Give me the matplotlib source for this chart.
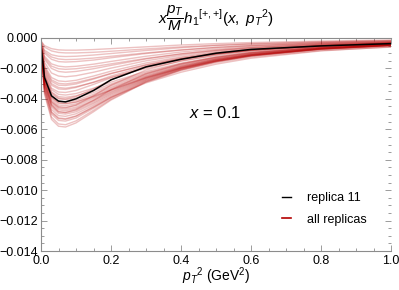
import numpy as np
import matplotlib.pyplot as plt
from matplotlib.lines import Line2D
from matplotlib.ticker import MultipleLocator

plt.rcParams['font.family'] = ['Liberation Sans', 'DejaVu Sans']
plt.rcParams['mathtext.fontset'] = 'custom'
plt.rcParams['mathtext.rm'] = 'Liberation Sans'
plt.rcParams['mathtext.it'] = 'Liberation Sans:italic'

# pT^2 grid (GeV^2) and curve values in units of 1e-3
pt2 = [0, 0.01, 0.03, 0.05, 0.07, 0.10, 0.15, 0.20, 0.30, 0.40, 0.50, 0.60, 0.80, 1.0]

replica11 = [-0.5, -2.6, -3.8, -4.15, -4.2, -4.0, -3.45, -2.75, -1.9, -1.4, -1.0, -0.75, -0.52, -0.37]

replicas = [
    [-0.2, -0.5, -0.7, -0.78, -0.8, -0.8, -0.76, -0.7, -0.58, -0.46, -0.37, -0.3, -0.2, -0.13],
    [-0.3, -0.8, -1.1, -1.2, -1.22, -1.2, -1.12, -1.02, -0.82, -0.64, -0.5, -0.4, -0.27, -0.18],
    [-0.3, -1.0, -1.4, -1.55, -1.58, -1.55, -1.45, -1.3, -1.02, -0.8, -0.62, -0.49, -0.32, -0.22],
    [-0.4, -1.2, -1.7, -1.85, -1.9, -1.86, -1.72, -1.54, -1.2, -0.92, -0.72, -0.56, -0.36, -0.25],
    [-0.4, -1.4, -2.0, -2.2, -2.25, -2.2, -2.02, -1.8, -1.38, -1.05, -0.8, -0.62, -0.4, -0.28],
    [-0.4, -1.6, -2.3, -2.5, -2.55, -2.48, -2.25, -1.98, -1.5, -1.14, -0.87, -0.67, -0.43, -0.3],
    [-0.5, -1.8, -2.6, -2.82, -2.86, -2.78, -2.5, -2.18, -1.64, -1.24, -0.94, -0.73, -0.47, -0.32],
    [-0.5, -2.0, -2.85, -3.1, -3.12, -3.02, -2.7, -2.35, -1.75, -1.3, -0.98, -0.76, -0.49, -0.33],
    [-0.5, -2.2, -3.1, -3.35, -3.38, -3.25, -2.9, -2.5, -1.85, -1.37, -1.03, -0.79, -0.5, -0.34],
    [-0.5, -2.3, -3.3, -3.55, -3.58, -3.45, -3.05, -2.62, -1.92, -1.42, -1.06, -0.81, -0.52, -0.35],
    [-0.5, -2.4, -3.4, -3.7, -3.75, -3.65, -3.3, -2.9, -2.2, -1.65, -1.25, -0.96, -0.6, -0.4],
    [-0.5, -2.5, -3.55, -3.85, -3.9, -3.8, -3.45, -3.02, -2.28, -1.7, -1.28, -0.98, -0.62, -0.41],
    [-0.6, -2.6, -3.7, -4.0, -4.05, -3.95, -3.58, -3.12, -2.35, -1.75, -1.32, -1.0, -0.63, -0.42],
    [-0.6, -2.7, -3.85, -4.15, -4.2, -4.1, -3.7, -3.22, -2.42, -1.8, -1.35, -1.03, -0.65, -0.43],
    [-0.6, -2.8, -3.95, -4.28, -4.33, -4.22, -3.8, -3.3, -2.48, -1.84, -1.38, -1.05, -0.66, -0.44],
    [-0.6, -2.85, -4.05, -4.4, -4.45, -4.33, -3.9, -3.38, -2.53, -1.88, -1.4, -1.07, -0.67, -0.45],
    [-0.6, -2.9, -4.15, -4.5, -4.56, -4.44, -3.98, -3.44, -2.57, -1.9, -1.42, -1.08, -0.68, -0.45],
    [-0.6, -3.0, -4.25, -4.62, -4.68, -4.55, -4.08, -3.52, -2.6, -1.93, -1.44, -1.1, -0.69, -0.46],
    [-0.6, -3.1, -4.35, -4.72, -4.78, -4.64, -4.15, -3.58, -2.64, -1.96, -1.46, -1.11, -0.7, -0.47],
    [-0.7, -3.15, -4.45, -4.84, -4.9, -4.75, -4.24, -3.65, -2.68, -1.98, -1.48, -1.12, -0.71, -0.48],
    [-0.7, -3.2, -4.55, -4.95, -5.0, -4.85, -4.32, -3.72, -2.72, -2.0, -1.5, -1.14, -0.72, -0.48],
    [-0.7, -3.3, -4.7, -5.1, -5.15, -4.98, -4.42, -3.8, -2.76, -2.03, -1.52, -1.15, -0.72, -0.49],
    [-0.7, -3.4, -4.85, -5.25, -5.3, -5.12, -4.52, -3.88, -2.8, -2.06, -1.54, -1.17, -0.73, -0.5],
    [-0.7, -3.5, -5.0, -5.42, -5.46, -5.26, -4.62, -3.94, -2.84, -2.08, -1.55, -1.18, -0.74, -0.5],
    [-0.8, -3.6, -5.2, -5.65, -5.7, -5.45, -4.75, -4.02, -2.88, -2.1, -1.56, -1.19, -0.75, -0.51],
    [-0.8, -3.7, -5.35, -5.8, -5.85, -5.58, -4.85, -4.08, -2.9, -2.14, -1.62, -1.25, -0.82, -0.6],
    [-0.5, -2.5, -3.6, -3.95, -4.0, -3.85, -3.35, -2.75, -1.9, -1.38, -1.02, -0.78, -0.5, -0.35],
    [-0.6, -2.9, -4.2, -4.55, -4.6, -4.4, -3.8, -3.1, -2.1, -1.5, -1.1, -0.83, -0.53, -0.37],
    [-0.6, -3.0, -4.4, -4.85, -4.9, -4.7, -4.1, -3.4, -2.35, -1.7, -1.26, -0.95, -0.6, -0.41],
    [-0.7, -3.3, -4.9, -5.3, -5.35, -5.15, -4.55, -3.9, -2.95, -2.25, -1.72, -1.33, -0.85, -0.58],
    [-0.3, -0.9, -1.25, -1.38, -1.42, -1.4, -1.32, -1.2, -0.98, -0.78, -0.62, -0.5, -0.34, -0.23],
    [-0.4, -1.3, -1.85, -2.02, -2.06, -2.02, -1.88, -1.7, -1.34, -1.04, -0.81, -0.64, -0.42, -0.29],
    [-0.5, -1.9, -2.75, -2.98, -3.02, -2.93, -2.65, -2.32, -1.78, -1.36, -1.05, -0.82, -0.53, -0.36],
    [-0.2, -0.6, -0.85, -0.95, -0.98, -0.98, -0.94, -0.87, -0.72, -0.58, -0.47, -0.38, -0.26, -0.17],
    [-0.5, -2.1, -3.0, -3.25, -3.3, -3.2, -2.92, -2.58, -2.0, -1.52, -1.16, -0.9, -0.57, -0.38],
    [-0.6, -2.75, -3.9, -4.25, -4.3, -4.2, -3.85, -3.42, -2.62, -1.98, -1.5, -1.15, -0.72, -0.48],
]

red = '#b40000'
grey = '#8c8c8c'

fig = plt.figure(figsize=(3.99, 2.90), dpi=100)
ax = fig.add_axes([41 / 399, 1 - 251 / 290, 350 / 399, 213 / 290])

x = np.array(pt2)
for r in replicas:
    ax.plot(x, np.array(r) * 1e-3, color=red, alpha=0.24, lw=1.0)
ax.plot(x, np.array(replica11) * 1e-3, color='black', lw=1.1)

ax.set_xlim(0, 1)
ax.set_ylim(-0.014, 0)
ax.xaxis.set_major_locator(MultipleLocator(0.2))
ax.xaxis.set_minor_locator(MultipleLocator(0.05))
ax.yaxis.set_major_locator(MultipleLocator(0.002))
ax.yaxis.set_minor_locator(MultipleLocator(0.0005))
ax.xaxis.set_major_formatter(plt.FuncFormatter(lambda v, p: '%.1f' % v))
ax.yaxis.set_major_formatter(plt.FuncFormatter(lambda v, p: ('%.3f' % v).replace('-', '\u2212')))

for s in ax.spines.values():
    s.set_color(grey)
    s.set_linewidth(0.8)
ax.spines['right'].set_visible(False)
ax.tick_params(which='both', direction='in', colors=grey, labelcolor='black',
               labelsize=9, top=True, right=True, width=0.6)
ax.tick_params(axis='y', pad=2)
ax.tick_params(axis='x', pad=3)
ax.tick_params(which='major', length=4)
ax.tick_params(which='minor', length=2)

fig.text(216 / 399, 1 - 18 / 290, r'$x\dfrac{p_T}{M}h_1{}^{[{+},{+}]}(x,\ p_T{}^2)$',
         ha='center', va='center', fontsize=11)
fig.text(216 / 399, 1 - 276 / 290, r'$p_T{}^2$ (GeV$^2$)', ha='center', va='center', fontsize=10)
fig.text(215 / 399, 1 - 113 / 290, r'$x$ = 0.1', ha='center', va='center', fontsize=12)

handles = [Line2D([], [], color='black', lw=1.0), Line2D([], [], color=red, lw=1.2)]
ax.legend(handles, ['replica 11', 'all replicas'], loc='center left',
          bbox_to_anchor=(0.67, 0.197), frameon=False, fontsize=9,
          handlelength=0.7, handletextpad=1.3, labelspacing=0.75, borderpad=0)

fig.savefig('out.png', dpi=100)
